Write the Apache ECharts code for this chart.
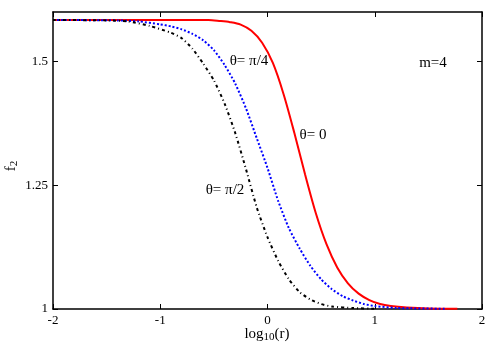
<!DOCTYPE html>
<html>
<head>
<meta charset="utf-8">
<script src="https://cdn.jsdelivr.net/npm/echarts@6/dist/echarts.min.js"></script>
<style>
  html, body { margin: 0; padding: 0; background: #fff; }
  #chart { width: 500px; height: 350px; }
</style>
</head>
<body>
<div id="chart"></div>
<script>
// values: x = log10(r), y = f2
const redX = [-2, -0.7, -0.55, -0.45, -0.35, -0.25, -0.15, -0.05, 0.05, 0.15, 0.25, 0.35, 0.45, 0.55, 0.65, 0.75, 0.85, 0.95, 1.05, 1.15, 1.3, 1.5, 1.77];
const redY = [1.584, 1.584, 1.5838, 1.582, 1.5795, 1.5745, 1.562, 1.538, 1.497, 1.434, 1.356, 1.272, 1.194, 1.131, 1.084, 1.052, 1.031, 1.018, 1.010, 1.006, 1.003, 1.001, 1.0005];

const blueX = [-2, -1.4, -1.2, -1.0, -0.9, -0.8, -0.7, -0.6, -0.5, -0.4, -0.3, -0.2, -0.1, 0, 0.1, 0.2, 0.3, 0.4, 0.5, 0.6, 0.7, 0.8, 0.9, 1.0, 1.2, 1.67];
const blueY = [1.584, 1.583, 1.581, 1.575, 1.571, 1.565, 1.556, 1.543, 1.523, 1.493, 1.455, 1.405, 1.345, 1.285, 1.218, 1.163, 1.122, 1.087, 1.060, 1.040, 1.026, 1.017, 1.010, 1.006, 1.002, 1.0005];

const blackX = [-2, -1.5, -1.3, -1.1, -0.9, -0.8, -0.7, -0.6, -0.5, -0.4, -0.3, -0.2, -0.1, 0, 0.1, 0.2, 0.3, 0.4, 0.5, 0.6, 0.8, 1.0];
const blackY = [1.584, 1.583, 1.581, 1.572, 1.558, 1.547, 1.526, 1.496, 1.462, 1.415, 1.355, 1.282, 1.205, 1.145, 1.097, 1.060, 1.034, 1.019, 1.010, 1.005, 1.002, 1.0005];

const xTicks = [-2, -1, 0, 1, 2];
const yTicks = [1, 1.25, 1.5];

const font = "'Liberation Serif', 'DejaVu Serif', serif";

const pairs = (xs, ys) => xs.map((x, i) => [x, ys[i]]);

const chart = echarts.init(document.getElementById('chart'));

const tickStyle = { inside: true, length: 5, lineStyle: { color: '#000', width: 1 } };
const lineStyle = { onZero: false, lineStyle: { color: '#000', width: 1.5 } };

const option = {
  backgroundColor: '#fff',
  animation: false,
  grid: { left: 53, right: 18, top: 12, bottom: 41 },
  xAxis: [
    {
      type: 'value', min: -2, max: 2, interval: 1,
      axisLine: lineStyle,
      axisTick: Object.assign({ customValues: xTicks }, tickStyle),
      axisLabel: { customValues: xTicks, color: '#000', fontFamily: font, fontSize: 13, margin: 5 },
      splitLine: { show: false }
    },
    {
      type: 'value', position: 'top', min: -2, max: 2, interval: 1,
      axisLine: lineStyle,
      axisTick: Object.assign({ customValues: xTicks }, tickStyle),
      axisLabel: { show: false },
      splitLine: { show: false }
    }
  ],
  yAxis: [
    {
      type: 'value', min: 1, max: 1.6, interval: 0.25,
      axisLine: lineStyle,
      axisTick: Object.assign({ customValues: yTicks }, tickStyle),
      axisLabel: { customValues: yTicks, color: '#000', fontFamily: font, fontSize: 13, margin: 5 },
      splitLine: { show: false }
    },
    {
      type: 'value', position: 'right', min: 1, max: 1.6, interval: 0.25,
      axisLine: lineStyle,
      axisTick: Object.assign({ customValues: yTicks }, tickStyle),
      axisLabel: { show: false },
      splitLine: { show: false }
    }
  ],
  series: [
    {
      name: 'θ= 0', type: 'line', showSymbol: false, smooth: 0.3,
      data: pairs(redX, redY),
      lineStyle: { color: '#ff0000', width: 2 }
    },
    {
      name: 'θ= π/4', type: 'line', showSymbol: false, smooth: 0.2,
      data: pairs(blueX, blueY),
      lineStyle: { color: '#0000ff', width: 2, type: [2, 2] }
    },
    {
      name: 'θ= π/2', type: 'line', showSymbol: false, smooth: 0.2,
      data: pairs(blackX, blackY),
      lineStyle: { color: '#000', width: 2, type: [3, 3, 1, 3] }
    }
  ],
  graphic: [
    { type: 'text', x: 249, y: 61, style: { text: 'θ= π/4', font: '15px ' + font, fill: '#000', align: 'center', verticalAlign: 'middle' } },
    { type: 'text', x: 313, y: 135, style: { text: 'θ= 0', font: '15px ' + font, fill: '#000', align: 'center', verticalAlign: 'middle' } },
    { type: 'text', x: 225, y: 190, style: { text: 'θ= π/2', font: '15px ' + font, fill: '#000', align: 'center', verticalAlign: 'middle' } },
    { type: 'text', x: 433, y: 63, style: { text: 'm=4', font: '15px ' + font, fill: '#000', align: 'center', verticalAlign: 'middle' } },
    {
      type: 'text', x: 267, y: 334,
      style: {
        text: '{a|log}{b|10}{a|(r)}', align: 'center', verticalAlign: 'middle', fill: '#000',
        rich: {
          a: { fontFamily: font, fontSize: 15, color: '#000' },
          b: { fontFamily: font, fontSize: 11, color: '#000', padding: [6, 0, 0, 0] }
        }
      }
    },
    {
      type: 'text', x: 11, y: 166, rotation: Math.PI / 2,
      style: {
        text: '{a|f}{b|2}', align: 'center', verticalAlign: 'middle', fill: '#000',
        rich: {
          a: { fontFamily: font, fontSize: 15, color: '#000' },
          b: { fontFamily: font, fontSize: 11, color: '#000', padding: [6, 0, 0, 0] }
        }
      }
    }
  ]
};

option && chart.setOption(option);
</script>
</body>
</html>
